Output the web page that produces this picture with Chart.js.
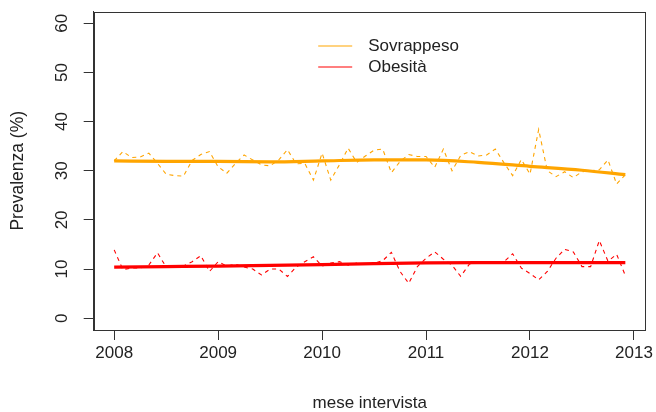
<!DOCTYPE html>
<html>
<head>
<meta charset="utf-8">
<script src="https://cdn.jsdelivr.net/npm/chart.js@4/dist/chart.umd.min.js"></script>
<style>
  html, body { margin: 0; padding: 0; background: #fff; }
  canvas { display: block; }
</style>
</head>
<body>
<canvas id="prevalenzaChart" width="656" height="412"></canvas>
<script>
// =============================
// DATI
// =============================

// tick degli assi
const anni = [2008, 2009, 2010, 2011, 2012, 2013]
const tickY = [0, 10, 20, 30, 40, 50, 60]

// prevalenza mensile gen 2008 - dic 2012 (%)
const sovrappeso = [
    32.0, 33.9, 32.7, 32.8, 33.6, 31.5, 29.3, 29.0, 28.9, 32.1, 33.3, 33.9,
    30.8, 29.5, 31.5, 33.2, 32.2, 31.2, 31.0, 32.2, 34.3, 31.4, 31.5, 28.1,
    33.6, 28.1, 31.2, 34.6, 31.7, 33.0, 34.2, 34.4, 29.6, 31.9, 33.3, 32.9,
    32.9, 30.7, 34.4, 30.0, 33.1, 33.9, 33.0, 33.2, 34.4, 31.6, 29.0, 32.3,
    29.3, 38.4, 30.0, 28.8, 29.8, 28.6, 29.8, 30.0, 30.2, 32.2, 27.3, 29.2
]

const obesita = [
    13.9,  9.9, 10.2, 10.2, 10.8, 13.3, 10.4, 10.5, 10.6, 11.5, 12.7,  9.5,
    11.5, 10.6, 11.0, 10.4, 10.0,  8.8, 10.0, 10.0,  8.5, 10.4, 11.5, 12.5,
    10.6, 11.2, 11.5, 10.8, 11.2, 11.0, 11.2, 11.7, 13.4,  9.5,  7.1, 10.5,
    12.2, 13.5, 12.0, 10.8,  8.5, 11.0, 11.5, 11.5, 11.2, 11.5, 13.1, 10.2,
     9.1,  7.8,  9.5, 12.2, 14.0, 13.5, 10.5, 10.5, 15.8, 11.6, 13.0,  8.7
]

// curve di tendenza (lisciate)
const trendAnni = [2008, 2008.5, 2009, 2009.5, 2010, 2010.5, 2011, 2011.5, 2012, 2012.5, 2012.917]
const trendSovrappeso = [32.0, 31.9, 31.9, 31.8, 32.0, 32.2, 32.2, 31.7, 30.9, 30.1, 29.2]
const trendObesita = [10.4, 10.5, 10.6, 10.75, 10.9, 11.1, 11.25, 11.3, 11.3, 11.3, 11.3]

const serie = ["Sovrappeso", "Obesità"]
const colori = ["#FFA500", "#FF0000"]


// =============================
// SUPPORTO
// =============================

const FONT = "'Liberation Sans', Arial, sans-serif"
const TESTO = "#222"
const LINEA = "#333"

function mensili(valori){
    return valori.map((v, i) => ({ x: 2008 + i / 12, y: v }))
}

function trend(valori){
    return valori.map((v, i) => ({ x: trendAnni[i], y: v }))
}

// riquadro, etichette y ruotate e legenda come nel grafico R
const extra = {
    id: "extra",
    afterDraw(chart){
        const { ctx, chartArea: a, scales: { y } } = chart
        ctx.save()
        ctx.setLineDash([])

        ctx.strokeStyle = LINEA
        ctx.lineWidth = 1
        ctx.strokeRect(Math.round(a.left) + 0.5, Math.round(a.top) + 0.5,
            Math.round(a.right - a.left) - 1, Math.round(a.bottom - a.top) - 1)

        ctx.fillStyle = TESTO
        ctx.font = "17px " + FONT
        ctx.textAlign = "center"
        ctx.textBaseline = "middle"
        y.ticks.forEach(t => {
            ctx.save()
            ctx.translate(a.left - 31.3, y.getPixelForValue(t.value))
            ctx.rotate(-Math.PI / 2)
            ctx.fillText(String(t.value), 0, 0)
            ctx.restore()
        })

        // legenda: linea sottile a cavallo di due pixel, come nel riferimento
        ctx.textAlign = "left"
        ctx.lineWidth = 1.2
        serie.forEach((nome, i) => {
            const py = Math.round(a.top + 34 + i * 21.3)
            ctx.strokeStyle = colori[i]
            ctx.beginPath()
            ctx.moveTo(a.left + 224.5, py)
            ctx.lineTo(a.left + 258.5, py)
            ctx.stroke()
            ctx.fillText(nome, a.left + 274.5, py + 0.5)
        })

        ctx.restore()
    }
}


// =============================
// GRAFICO
// =============================

new Chart(document.getElementById("prevalenzaChart").getContext("2d"), {

    type: "line",

    data: {
        datasets: [
            {
                label: serie[0],
                data: mensili(sovrappeso),
                borderColor: colori[0],
                borderWidth: 1.1,
                borderDash: [4, 4]
            },
            {
                label: serie[1],
                data: mensili(obesita),
                borderColor: colori[1],
                borderWidth: 1.1,
                borderDash: [4, 4]
            },
            {
                label: serie[0] + " (tendenza)",
                data: trend(trendSovrappeso),
                borderColor: colori[0],
                borderWidth: 3.2,
                cubicInterpolationMode: "monotone"
            },
            {
                label: serie[1] + " (tendenza)",
                data: trend(trendObesita),
                borderColor: colori[1],
                borderWidth: 3.2,
                cubicInterpolationMode: "monotone"
            }
        ]
    },

    options: {
        responsive: false,
        animation: false,
        devicePixelRatio: 1,
        layout: { padding: { top: 11.5, right: 6.4, left: 0, bottom: 0 } },
        elements: { point: { radius: 0 }, line: { tension: 0 } },
        plugins: { legend: { display: false }, tooltip: { enabled: false } },
        scales: {
            x: {
                type: "linear",
                min: 2007.803,
                max: 2013.113,
                afterBuildTicks: s => { s.ticks = anni.map(v => ({ value: v })) },
                afterFit: s => { s.height = 82 },
                grid: { drawOnChartArea: false, tickLength: 10, color: LINEA },
                border: { color: LINEA },
                ticks: {
                    padding: 3,
                    color: TESTO,
                    font: { family: FONT, size: 17 },
                    callback: v => String(v)
                },
                title: {
                    display: true,
                    text: "mese intervista",
                    color: TESTO,
                    font: { family: FONT, size: 17, lineHeight: 1.0 },
                    padding: { top: 0, bottom: 0 }
                }
            },
            y: {
                min: -2.4,
                max: 62.4,
                afterBuildTicks: s => { s.ticks = tickY.map(v => ({ value: v })) },
                afterFit: s => { s.width = 93.7 },
                grid: { drawOnChartArea: false, tickLength: 10, color: LINEA },
                border: { color: LINEA },
                ticks: { display: false },
                title: {
                    display: true,
                    text: "Prevalenza (%)",
                    color: TESTO,
                    font: { family: FONT, size: 17.5 },
                    padding: { top: 8, bottom: 0 }
                }
            }
        }
    },

    plugins: [extra]

})
</script>
</body>
</html>
